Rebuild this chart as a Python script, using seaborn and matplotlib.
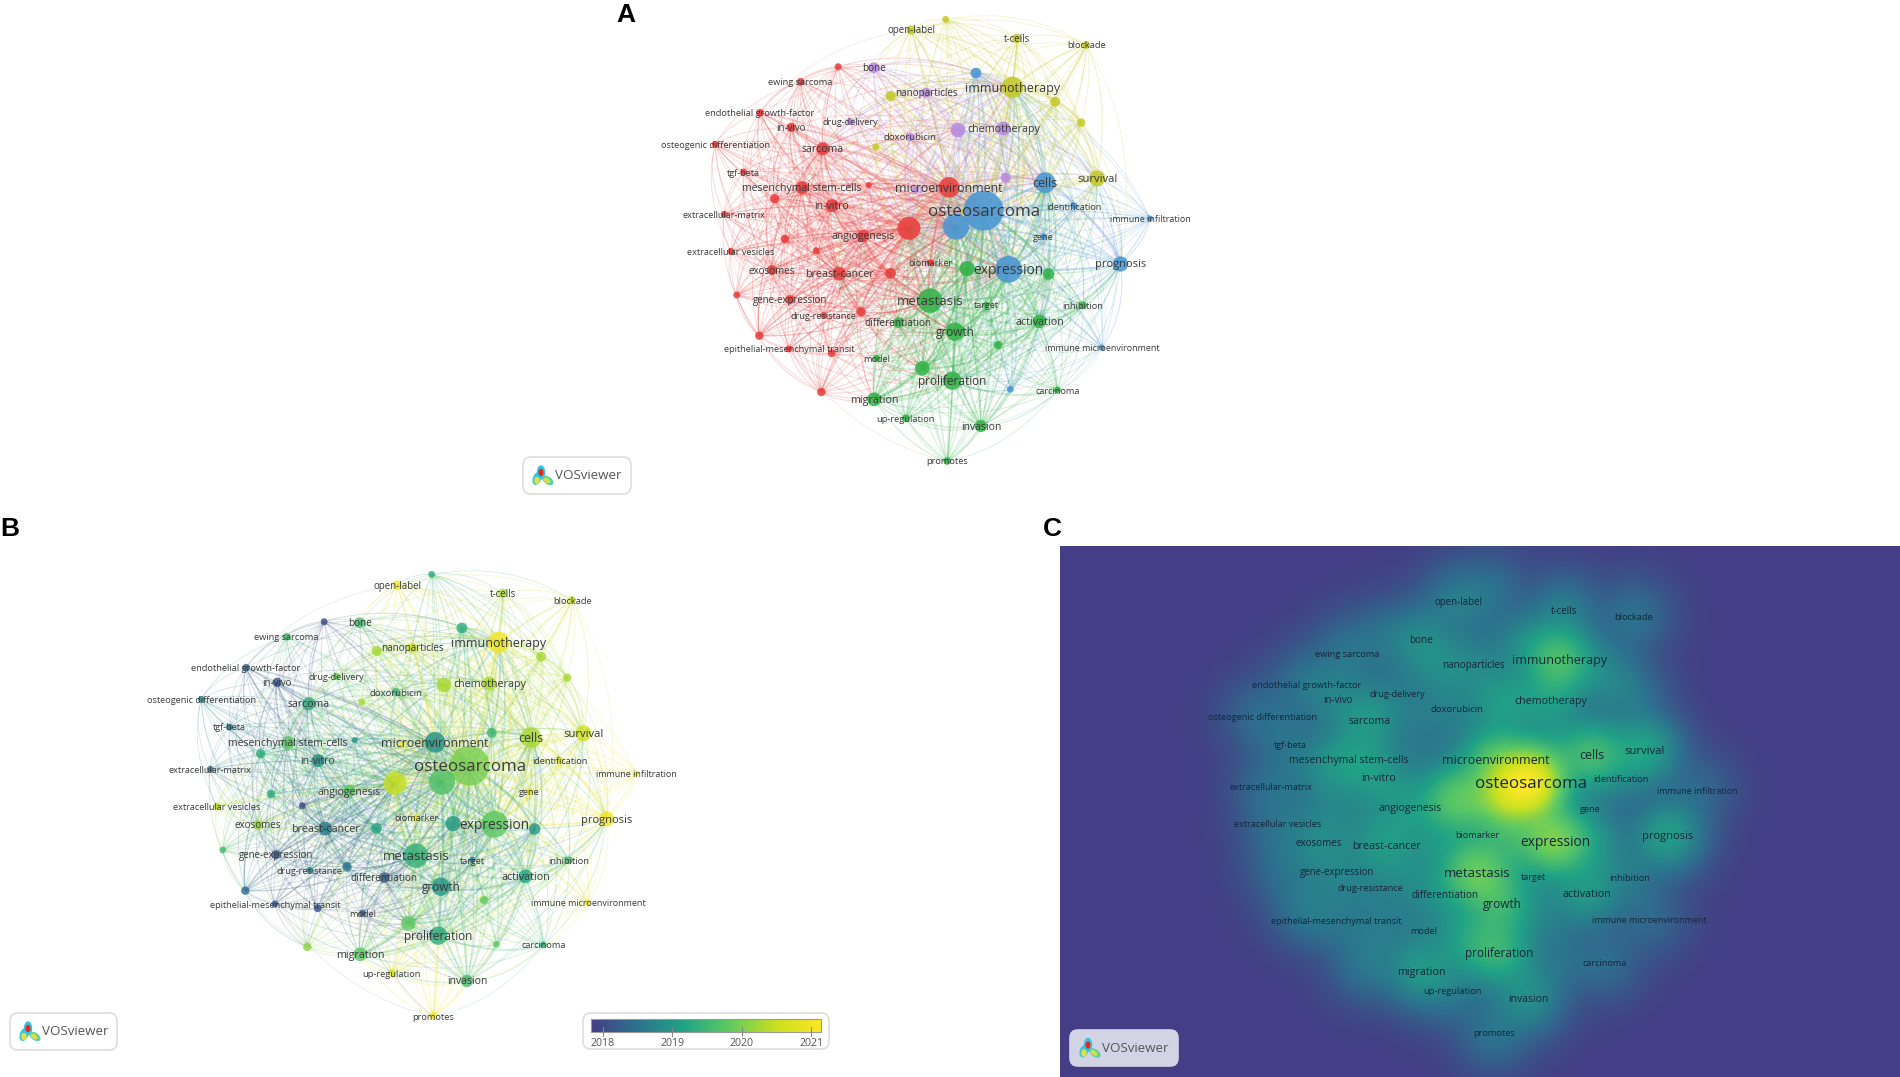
import matplotlib
matplotlib.use("Agg")
import matplotlib.pyplot as plt
import numpy as np
import pandas as pd
import seaborn as sns
from matplotlib.collections import PathCollection
from matplotlib.colors import LinearSegmentedColormap
from matplotlib.patches import Ellipse, FancyBboxPatch
from matplotlib.path import Path

sns.set_theme(style="white")
plt.rcParams["font.family"] = ["Open Sans", "DejaVu Sans"]

node_labels = [
    "ewing sarcoma", "endothelial growth-factor", "in-vivo", "osteogenic differentiation", "sarcoma", "tgf-beta",
    "mesenchymal stem-cells", "in-vitro", "extracellular-matrix", "angiogenesis", "extracellular vesicles", "exosomes",
    "breast-cancer", "biomarker", "gene-expression", "drug-resistance", "epithelial-mesenchymal transit", "",
    "", "", "", "", "", "",
    "", "", "", "", "", "microenvironment",
    "bone", "nanoparticles", "drug-delivery", "doxorubicin", "chemotherapy", "",
    "", "",
    "open-label", "", "t-cells", "blockade", "immunotherapy", "",
    "", "", "", "survival",
    "", "cells", "osteosarcoma", "", "identification", "immune infiltration",
    "gene", "expression", "prognosis", "immune microenvironment", "",
    "", "", "metastasis", "target", "inhibition", "activation",
    "differentiation", "growth", "", "model", "", "proliferation",
    "carcinoma", "migration", "up-regulation", "invasion", "promotes",
]
node_x = [
    472, 366, 447, 249, 530, 323,
    476, 554, 272, 635, 290, 397,
    573, 811, 444, 532, 441, 570,
    755, 404, 431, 513, 707, 305,
    630, 364, 553, 526, 650, 860,
    663, 800, 601, 757, 1002, 883,
    1008, 772,
    761, 851, 1037, 1218, 1026, 707,
    1137, 1205, 668, 1247,
    930, 1111, 950, 878, 1187, 1385,
    1107, 1015, 1308, 1259, 1020,
    907, 1120, 810, 957, 1210, 1096,
    727, 875, 988, 670, 790, 868,
    1143, 664, 747, 943, 855,
]
node_y = [
    245, 338, 382, 433, 446, 516,
    563, 617, 643, 708, 754, 810,
    821, 788, 899, 946, 1047, 200,
    685, 596, 717, 752, 820, 885,
    935, 1007, 1060, 1176, 555, 562,
    203, 278, 364, 411, 385, 390,
    533, 570,
    90, 58, 115, 135, 262, 288,
    305, 368, 441, 535,
    219, 548, 632, 680, 618, 656,
    710, 808, 792, 1043, 1168,
    806, 822, 902, 915, 916, 964,
    968, 995, 1035, 1075, 1105, 1142,
    1170, 1198, 1255, 1278, 1383,
]
node_weight = [
    20, 20, 29, 16, 58, 16,
    58, 58, 16, 51, 16, 34,
    65, 16, 29, 16, 16, 16,
    180, 29, 24, 16, 39, 16,
    29, 24, 20, 24, 13, 146,
    39, 34, 16, 24, 65, 72,
    34, 16,
    29, 16, 29, 20, 157, 34,
    34, 24, 16, 88,
    39, 146, 541, 231, 16, 13,
    16, 245, 80, 13, 16,
    80, 45, 205, 13, 20, 65,
    39, 115, 24, 16, 72, 115,
    16, 65, 20, 51, 20,
]
node_cluster = (
    ["red"] * 30 + ["purple"] * 8 + ["yellow"] * 10 + ["blue"] * 11 + ["green"] * 17
)
node_year = [
    2019.6, 2018.3, 2018.1, 2018.8, 2019.3, 2018.5,
    2019.8, 2018.9, 2018.6, 2019.8, 2020.4, 2020.2,
    2018.6, 2021.0, 2018.2, 2018.6, 2018.1, 2018.0,
    2020.5, 2019.3, 2019.3, 2018.0, 2019.2, 2019.6,
    2018.5, 2018.4, 2018.1, 2020.1, 2019.0, 2018.9,
    2019.6, 2020.6, 2019.9, 2019.5, 2020.3, 2020.3,
    2019.5, 2021.0,
    2021.0, 2019.3, 2020.3, 2020.5, 2021.0, 2020.3,
    2020.3, 2020.3, 2020.3, 2020.6,
    2019.3, 2020.3, 2020.0, 2019.7, 2020.7, 2021.0,
    2020.8, 2019.8, 2021.0, 2021.0, 2019.8,
    2019.0, 2019.0, 2019.4, 2018.5, 2019.6, 2019.2,
    2018.2, 2019.0, 2019.9, 2018.1, 2019.8, 2019.3,
    2019.4, 2019.8, 2020.7, 2019.6, 2021.0,
]
# perimeter links that can be followed by eye in the picture
outer_links = [
    ("ewing sarcoma", "bone"), ("open-label", "bone"), ("open-label", "t-cells"), ("t-cells", "blockade"),
    ("blockade", "survival"), ("blockade", "immunotherapy"), ("blockade", "prognosis"),
    ("survival", "immune infiltration"), ("prognosis", "immune infiltration"),
    ("prognosis", "immune microenvironment"), ("prognosis", "carcinoma"), ("promotes", "carcinoma"),
    ("promotes", "migration"), ("promotes", "invasion"), ("promotes", "proliferation"),
    ("promotes", "epithelial-mesenchymal transit"), ("ewing sarcoma", "osteogenic differentiation"),
    ("extracellular-matrix", "extracellular vesicles"), ("extracellular vesicles", "epithelial-mesenchymal transit"),
    ("open-label", "endothelial growth-factor"), ("inhibition", "immune microenvironment"),
    ("carcinoma", "immune microenvironment"), ("up-regulation", "promotes"), ("up-regulation", "invasion"),
]
year_ticks = [2018, 2019, 2020, 2021]

cluster_colors = {
    "red": "#e8403f", "green": "#35b34a", "blue": "#4a97d4", "yellow": "#c6c92a", "purple": "#b98ae2",
}
vos_cmap = LinearSegmentedColormap.from_list(
    "vos", ["#433e85", "#2c728e", "#20a386", "#5ec962", "#c8e020", "#fde725"]
)
year_lo, year_hi = 2017.83, 2021.16

nodes = pd.DataFrame(
    {
        "label": node_labels,
        "x": 620 + np.array(node_x) / 2.613,
        "y": np.array(node_y) / 3.0,
        "weight": node_weight,
        "cluster": node_cluster,
        "year": node_year,
    }
)
px = nodes["x"].to_numpy()
py = nodes["y"].to_numpy()
w = nodes["weight"].to_numpy(dtype=float)
center = np.array([945.0, 240.0])

# The individual links of the real map cannot be read off, so the wiring below is
# worked out from the node table (strong, close keywords get linked) plus outer_links.
links = {}
for i in range(len(nodes)):
    d = np.hypot(px - px[i], py - py[i])
    strength = np.sqrt(w * w[i]) / (1 + (d / 210) ** 2)
    strength[nodes["cluster"] == nodes["cluster"][i]] *= 1.6
    strength[i] = 0
    k = 16 + int(np.sqrt(w[i]) * 1.2)
    for j in np.argsort(strength)[-k:]:
        links[(min(i, j), max(i, j))] = strength[j]
label_pos = {lab: n for n, lab in enumerate(node_labels) if lab}
for a, b in outer_links:
    i, j = sorted((label_pos[a], label_pos[b]))
    links.setdefault((i, j), 3.0)

fig = plt.figure(figsize=(19, 10.77), dpi=100)

# heat map of panel C, sits under the main overlay axes
grid_x = np.arange(1060, 1900, 2) + 1.0
grid_y = np.arange(546, 1077, 2) + 1.0
gx, gy = np.meshgrid(grid_x, grid_y)
density = np.zeros_like(gx)
for i in range(len(nodes)):
    density += w[i] * np.exp(-((gx - px[i] - 547) ** 2 + (gy - py[i] - 572) ** 2) / (2 * 21.0**2))
density = (density / density.max()) ** 0.47
heat_ax = fig.add_axes([1060 / 1900, 0, 840 / 1900, (1077 - 546) / 1077])
sns.heatmap(
    pd.DataFrame(density), ax=heat_ax, cmap=vos_cmap, vmin=0, vmax=1, cbar=False,
    xticklabels=False, yticklabels=False, rasterized=True,
)

ax = fig.add_axes([0, 0, 1, 1])
ax.patch.set_alpha(0)
ax.set_axis_off()


def draw_links(dx, dy, colors, alpha):
    paths = []
    edge_colors = []
    widths = []
    for (i, j), s in links.items():
        p0 = np.array([px[i] + dx, py[i] + dy])
        p1 = np.array([px[j] + dx, py[j] + dy])
        mid = (p0 + p1) / 2
        radial = mid - center - [dx, dy]
        chord = np.hypot(*(p1 - p0))
        # links bow away from the middle of the map, a bit more for long ones
        ctrl = mid + radial / (np.hypot(*radial) + 1) * chord * 0.2
        paths.append(Path([p0, ctrl, p1], [Path.MOVETO, Path.CURVE3, Path.CURVE3]))
        edge_colors.append(colors[i if w[i] <= w[j] else j])
        widths.append(np.clip(0.3 + s / 85, 0.3, 1.7))
    pc = PathCollection(
        paths, facecolors="none", edgecolors=edge_colors, linewidths=widths, alpha=alpha, zorder=1
    )
    ax.add_collection(pc)


def draw_labels(dx, dy, color):
    for i, lab in enumerate(node_labels):
        if lab:
            fs = 5.4 + 0.29 * np.sqrt(w[i])
            ax.text(px[i] + dx, py[i] + dy + 1, lab, fontsize=fs, color=color, ha="center", va="center", zorder=5)


def badge(x0, y0, x1, y1, face, edge):
    ax.add_patch(
        FancyBboxPatch(
            (x0 + 8, y0 + 8), x1 - x0 - 16, y1 - y0 - 16, boxstyle="round,pad=8,rounding_size=8",
            facecolor=face, edgecolor=edge, linewidth=1.2, zorder=6,
        )
    )
    ix, iy = x0 + 18, (y0 + y1) / 2
    ax.add_patch(Ellipse((ix - 4, iy + 3), 7, 12, angle=20, color="#38c8d8", zorder=7))
    ax.add_patch(Ellipse((ix, iy - 3), 7, 13, color="#33c4e0", zorder=7))
    ax.add_patch(Ellipse((ix + 7, iy + 5), 11, 6, angle=35, color="#5fd0a0", zorder=7))
    ax.add_patch(Ellipse((ix - 4, iy + 5), 4, 6, color="#e6e13c", zorder=7))
    ax.add_patch(Ellipse((ix + 6, iy + 5), 6, 3, angle=35, color="#d8e04a", zorder=7))
    ax.add_patch(Ellipse((ix, iy - 3), 3.5, 6, color="#e8261c", zorder=8))
    ax.text(x0 + 65, iy, "VOSviewer", fontsize=9.6, color="#555555", ha="center", va="center", zorder=7)


# panel A: clusters
draw_links(0, 0, [cluster_colors[c] for c in node_cluster], 0.22)
sns.scatterplot(
    data=nodes, x="x", y="y", hue="cluster", palette=cluster_colors, size="weight",
    sizes=(0, 822), size_norm=(0, 541), legend=False, linewidth=0, alpha=0.88, ax=ax, zorder=3,
)
draw_labels(0, 0, "#3a3a3a")

# panel B: average publication year
norm_years = (np.array(node_year) - year_lo) / (year_hi - year_lo)
draw_links(-514, 555, [vos_cmap(v) for v in norm_years], 0.2)
nodes_b = nodes.assign(x=nodes["x"] - 514, y=nodes["y"] + 555)
sns.scatterplot(
    data=nodes_b, x="x", y="y", hue="year", palette=vos_cmap, hue_norm=(year_lo, year_hi), size="weight",
    sizes=(0, 822), size_norm=(0, 541), legend=False, linewidth=0, alpha=0.8, ax=ax, zorder=3,
)
draw_labels(-514, 555, "#3a3a3a")

# panel C labels on top of the heat map
draw_labels(547, 572, "#16263a")

badge(523, 457, 631, 494, "white", "#dddddd")
badge(10, 1013, 117, 1050, "white", "#dddddd")
badge(1070, 1030, 1178, 1066, "#d3d3e6", "#d3d3e6")

# year colour bar of panel B
ax.add_patch(
    FancyBboxPatch(
        (591, 1021), 230, 20, boxstyle="round,pad=8,rounding_size=8",
        facecolor="white", edgecolor="#dddddd", linewidth=1.2, zorder=6,
    )
)
ax.imshow(
    np.linspace(0, 1, 256).reshape(1, -1), cmap=vos_cmap, extent=(591, 821, 1032, 1019),
    aspect="auto", zorder=7,
)
ax.add_patch(plt.Rectangle((591, 1019), 230, 13, fill=False, edgecolor="#999999", linewidth=0.8, zorder=8))
for year in year_ticks:
    tick_x = 603 + (year - 2018) * 69.4
    ax.plot([tick_x, tick_x], [1027, 1036], color="#888888", linewidth=0.8, zorder=8)
    ax.text(tick_x, 1043, str(year), fontsize=7.6, color="#555555", ha="center", va="center", zorder=8)

for letter, lx, ly in [("A", 626, 15), ("B", 10, 529), ("C", 1052, 529)]:
    ax.text(lx, ly, letter, fontsize=19, fontweight="bold", family="Liberation Sans", color="black",
            ha="center", va="center", zorder=9)

ax.set(xlim=(0, 1900), ylim=(1077, 0), xlabel="", ylabel="")
ax.set_axis_off()
fig.savefig("out.png", dpi=100, facecolor="white")
